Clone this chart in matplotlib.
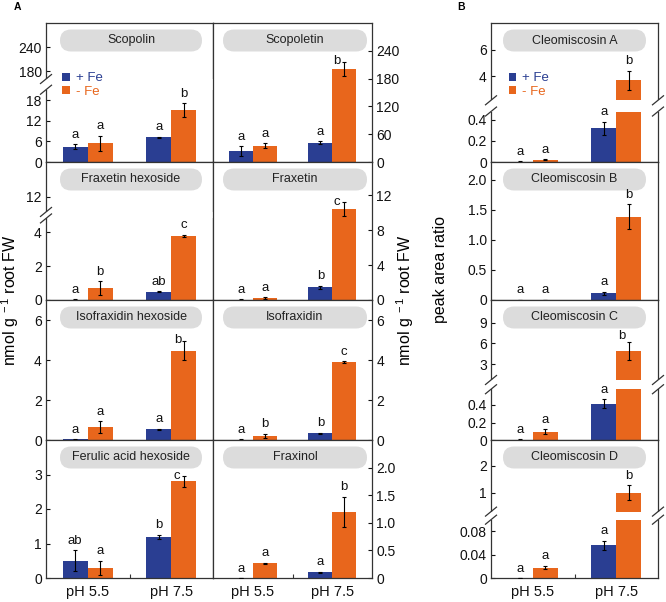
import numpy as np
import matplotlib
matplotlib.use('Agg')
import matplotlib.pyplot as plt
from matplotlib.patches import FancyBboxPatch, Patch, Rectangle
from matplotlib.transforms import IdentityTransform

plt.rcParams['font.family'] = ['Liberation Sans', 'DejaVu Sans']
plt.rcParams['mathtext.fontset'] = 'custom'
plt.rcParams['mathtext.rm'] = 'Liberation Sans'
plt.rcParams['mathtext.it'] = 'Liberation Sans:italic'
plt.rcParams['mathtext.bf'] = 'Liberation Sans:bold'

# ---------------- data ----------------
groups = ['pH 5.5', 'pH 7.5']
conditions = ['+ Fe', '- Fe']

compounds = ['Scopolin', 'Scopoletin',
             'Fraxetin hexoside', 'Fraxetin',
             'Isofraxidin hexoside', 'Isofraxidin',
             'Ferulic acid hexoside', 'Fraxinol',
             'Cleomiscosin A', 'Cleomiscosin B', 'Cleomiscosin C', 'Cleomiscosin D']

plus_fe = [[4.4, 7.2], [24, 42], [0.02, 0.49], [0.05, 1.45],
           [0.03, 0.53], [0.02, 0.33], [0.5, 1.19], [0.0, 0.1],
           [0.004, 0.32], [0.004, 0.11], [0.004, 0.415], [0.0, 0.056]]
plus_fe_err = [[0.7, 0.15], [10, 3], [0.01, 0.03], [0.03, 0.2],
               [0.02, 0.03], [0.01, 0.03], [0.3, 0.07], [0.0, 0.01],
               [0.003, 0.064], [0.003, 0.03], [0.003, 0.05], [0.0, 0.008]]
minus_fe = [[5.4, 15.1], [35, 201], [0.7, 3.78], [0.2, 10.4],
            [0.63, 4.47], [0.22, 3.88], [0.3, 2.8], [0.27, 1.2],
            [0.02, 3.7], [0.004, 1.39], [0.095, 4.95], [0.018, 1.0]]
minus_fe_err = [[2.2, 1.9], [5, 15], [0.41, 0.05], [0.1, 0.8],
                [0.3, 0.46], [0.1, 0.05], [0.2, 0.15], [0.01, 0.27],
                [0.005, 0.72], [0.003, 0.21], [0.03, 1.3], [0.003, 0.28]]
letters_plus = [['a', 'a'], ['a', 'a'], ['a', 'ab'], ['a', 'b'],
                ['a', 'a'], ['a', 'b'], ['ab', 'b'], ['a', 'a'],
                ['a', 'a'], ['a', 'a'], ['a', 'a'], ['a', 'a']]
letters_minus = [['a', 'b'], ['a', 'b'], ['b', 'c'], ['a', 'c'],
                 ['a', 'b'], ['b', 'c'], ['a', 'c'], ['a', 'b'],
                 ['a', 'b'], ['a', 'b'], ['a', 'b'], ['a', 'b']]

yticks = [[0, 6, 12, 18, 180, 240], [0, 60, 120, 180, 240],
          [0, 2, 4, 12], [0, 4, 8, 12],
          [0, 2, 4, 6], [0, 2, 4, 6],
          [0, 1, 2, 3], [0, 0.5, 1.0, 1.5, 2.0],
          [0, 0.2, 0.4, 4, 6], [0, 0.5, 1.0, 1.5, 2.0],
          [0, 0.2, 0.4, 3, 6, 9], [0, 0.04, 0.08, 1, 2]]
ytick_labels = [['0', '6', '12', '18', '180', '240'], ['0', '60', '120', '180', '240'],
                ['0', '2', '4', '12'], ['0', '4', '8', '12'],
                ['0', '2', '4', '6'], ['0', '2', '4', '6'],
                ['0', '1', '2', '3'], ['0', '0.5', '1.0', '1.5', '2.0'],
                ['0', '0.2', '0.4', '4', '6'], ['0', '0.5', '1.0', '1.5', '2.0'],
                ['0', '0.2', '0.4', '3', '6', '9'], ['0', '0.04', '0.08', '1', '2']]

# ---------------- layout / styling ----------------
BLUE = '#2a3e92'
ORANGE = '#e8661c'
BOXC = '#dcdcdc'
SPC = '#333333'

W, H = 666, 602
col_px = [(46, 213), (213, 372), (491, 658)]
row_px = [(23, 162), (162, 300), (300, 440), (440, 578)]
box_px = [(60, 202), (223, 367), (503, 646)]

# (col, row) for each compound
place = [(0, 0), (1, 0), (0, 1), (1, 1), (0, 2), (1, 2), (0, 3), (1, 3),
         (2, 0), (2, 1), (2, 2), (2, 3)]
# plain limits or broken axis: ('break', L1, U0, U1, f1, f2)
yscale_cfg = [('break', 21, 160, 300, 0.52, 0.597), ('lim', 300),
              ('break', 4.8, 10.5, 15.5, 0.591, 0.638), ('lim', 15.8),
              ('lim', 7), ('lim', 7),
              ('lim', 4), ('lim', 2.5),
              ('break', 0.48, 2.2, 8, 0.363, 0.444), ('lim', 2.3),
              ('break', 0.58, 0.68, 12.3, 0.3625, 0.4286), ('break', 0.1, 0.3, 2.95, 0.4225, 0.481)]
# offset (points) of the letter above the "- Fe, pH 7.5" bar
letter_off_minus75 = [(0, 2.5), (-5, -4), (0, 2.5), (-5, -4),
                      (-4, -3), (0, 2.5), (-5, -4), (0, 2.5),
                      (0, 2.5), (0, 2.5), (-5, 0), (0, 2.5)]


def make_break(L1, U0, U1, f1, f2):
    xp = np.array([0.0, L1, U0, U1])
    fp = np.array([0.0, f1, f2, 1.0])
    s_lo = f1 / L1
    s_hi = (1 - f2) / (U1 - U0)

    def fwd(v):
        v = np.asarray(v, dtype=float)
        out = np.interp(v, xp, fp)
        out = np.where(v < 0, v * s_lo, out)
        out = np.where(v > U1, 1 + (v - U1) * s_hi, out)
        return out

    def inv(f):
        f = np.asarray(f, dtype=float)
        out = np.interp(f, fp, xp)
        out = np.where(f < 0, f / s_lo, out)
        out = np.where(f > 1, U1 + (f - 1) / s_hi, out)
        return out
    return fwd, inv


fig = plt.figure(figsize=(W / 100, H / 100), dpi=100)

x = np.array([0.25, 0.75])
bw = 0.15

for k, name in enumerate(compounds):
    c, r = place[k]
    x0, x1 = col_px[c]
    y0, y1 = row_px[r]
    axw, axh = x1 - x0, y1 - y0
    ax = fig.add_axes([x0 / W, 1 - y1 / H, axw / W, axh / H])
    cfg = yscale_cfg[k]
    if cfg[0] == 'break':
        _, L1, U0, U1, f1, f2 = cfg
        fwd, inv = make_break(L1, U0, U1, f1, f2)
        ax.set_yscale('function', functions=(fwd, inv))
        ax.set_ylim(0, U1)
    else:
        ax.set_ylim(0, cfg[1])
    ax.set_xlim(0, 1)

    ax.bar(x - bw / 2, plus_fe[k], bw, color=BLUE, zorder=2, linewidth=0)
    ax.bar(x + bw / 2, minus_fe[k], bw, color=ORANGE, zorder=2, linewidth=0)
    ax.errorbar(x - bw / 2, plus_fe[k], yerr=plus_fe_err[k], fmt='none', ecolor='black',
                elinewidth=0.8, capsize=1.5, capthick=0.8, zorder=3)
    ax.errorbar(x + bw / 2, minus_fe[k], yerr=minus_fe_err[k], fmt='none', ecolor='black',
                elinewidth=0.8, capsize=1.5, capthick=0.8, zorder=3)
    for i in range(2):
        items = ((x[i] - bw / 2, plus_fe[k][i], plus_fe_err[k][i], letters_plus[k][i], (0, 2.5)),
                 (x[i] + bw / 2, minus_fe[k][i], minus_fe_err[k][i], letters_minus[k][i],
                  letter_off_minus75[k] if i == 1 else (0, 2.5)))
        for xs, m, e, lt, off in items:
            ax.annotate(lt, (xs, m + e), xytext=off, textcoords='offset points',
                        ha='center', va='bottom', fontsize=9.5, color='#111111', zorder=6)

    # spines & ticks
    for sp in ax.spines.values():
        sp.set_color(SPC)
        sp.set_linewidth(0.9)
    ax.set_yticks(yticks[k])
    ax.set_yticklabels(ytick_labels[k])
    ax.yaxis.set_minor_locator(matplotlib.ticker.NullLocator())
    if c == 1:
        ax.yaxis.tick_right()
    ax.tick_params(axis='y', direction='in', length=3, width=0.8, labelsize=10, pad=3,
                   colors='#111111')
    if r == 3:
        ax.set_xticks(x)
        ax.set_xticklabels(groups)
        ax.set_xticks([0.5], minor=True)
        ax.tick_params(axis='x', which='major', length=0, labelsize=10.5, pad=5,
                       colors='#111111')
        ax.tick_params(axis='x', which='minor', direction='in', length=3, width=0.8,
                       colors=SPC)
    else:
        ax.set_xticks([])

    # axis break
    if cfg[0] == 'break':
        ax.add_patch(Rectangle((-0.03, f1), 1.06, f2 - f1, transform=ax.transAxes,
                               facecolor='white', edgecolor='none', clip_on=False, zorder=3.5))
        dx = 5.5 / axw
        dy = 4.5 / axh
        sides = [0.0, 1.0] if c == 2 else [0.0]
        for sx in sides:
            for fy in (f1, f2):
                ax.plot([sx - dx, sx + dx], [fy - dy, fy + dy], color=SPC, lw=0.9,
                        transform=ax.transAxes, clip_on=False, zorder=4)

    # title box (pill shape, drawn in pixel coordinates)
    bx0, bx1 = box_px[c]
    top_px = H - (y0 + 6.5)
    bot_px = H - (y0 + 28.5)
    bh = top_px - bot_px
    box = FancyBboxPatch((bx0, bot_px), bx1 - bx0, bh,
                         boxstyle='round,pad=0,rounding_size=%f' % (bh / 2),
                         transform=IdentityTransform(),
                         facecolor=BOXC, edgecolor='none', zorder=4, clip_on=False)
    ax.add_patch(box)
    ax.text((bx0 + bx1) / 2, (top_px + bot_px) / 2, name, transform=IdentityTransform(),
            ha='center', va='center', fontsize=9, color='#222222', zorder=5)

    if k in (0, 8):
        handles = [Patch(facecolor=BLUE), Patch(facecolor=ORANGE)]
        bxa = 0.095 if k == 0 else 0.105
        leg = ax.legend(handles, conditions, loc='upper left', bbox_to_anchor=(bxa, 0.645),
                        frameon=False, fontsize=9.5, handlelength=0.6, handleheight=0.6,
                        handletextpad=0.45, labelspacing=0.12, borderpad=0, borderaxespad=0,
                        labelcolor=[BLUE, ORANGE])
        leg.set_zorder(7)

ylab = r'nmol g$^{\ -1}$ root FW'
fig.text(10 / W, 1 - 300 / H, ylab, rotation=90, ha='center', va='center', fontsize=11.5)
fig.text(405 / W, 1 - 300 / H, ylab, rotation=90, ha='center', va='center', fontsize=11.5)
fig.text(440 / W, 1 - 270 / H, 'peak area ratio', rotation=90, ha='center', va='center',
         fontsize=11.5)
fig.text(17 / W, 1 - 7 / H, 'A', ha='center', va='center', fontsize=7.5, fontweight='bold')
fig.text(461 / W, 1 - 7 / H, 'B', ha='center', va='center', fontsize=7.5, fontweight='bold')

fig.savefig('out.png', dpi=100)
